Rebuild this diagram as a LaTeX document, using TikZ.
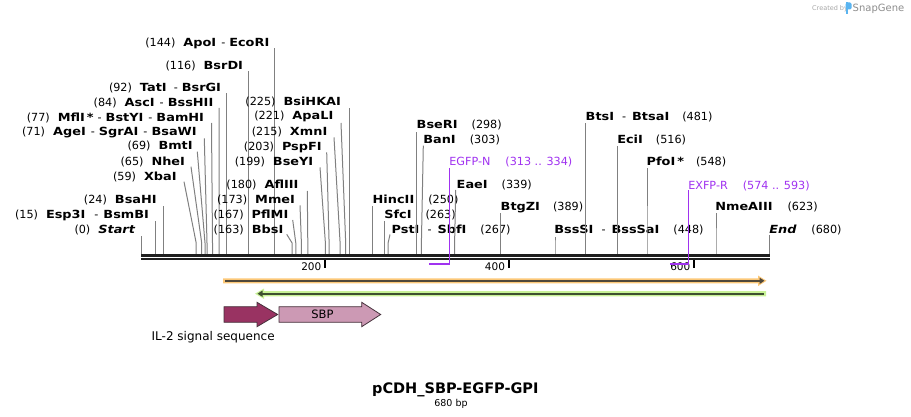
\documentclass[tikz,border=0pt]{standalone}
\usepackage{fontspec}
\setmainfont{DejaVu Sans}
\newfontfamily\bnm[FakeStretch=1.15]{DejaVu Sans}
\usetikzlibrary{arrows.meta}
\definecolor{enzc}{RGB}{128,128,128}
\definecolor{seqc}{RGB}{30,30,30}
\definecolor{prim}{RGB}{160,50,240}
\definecolor{orL}{RGB}{252,200,120}
\definecolor{orD}{RGB}{80,72,58}
\definecolor{grL}{RGB}{200,242,150}
\definecolor{grD}{RGB}{62,80,48}
\definecolor{ilc}{RGB}{153,51,98}
\definecolor{sbpc}{RGB}{204,153,180}
\definecolor{featb}{RGB}{70,50,60}
\definecolor{logoc}{RGB}{90,180,240}
\newcommand\nm[1]{{\bnm\bfseries #1}}
\newcommand\nmi[1]{{\bnm\bfseries\itshape #1}}
\newcommand\dsh{\hspace{5pt}-\hspace{4pt}}
\newcommand\dshw{\hspace{8pt}-\hspace{6pt}}
\newcommand\enzL[7]{%
  \coordinate (s#1) at (#2,254);
  \coordinate (t#1) at (#3,#4);
  \draw[enz] (s#1) -- ([yshift=11pt]s#1) -- (t#1);
  \node[lab,anchor=base east] (l#1) at (#5,#6) {#7};
}
\newcommand\enzR[7]{%
  \coordinate (s#1) at (#2,254);
  \coordinate (t#1) at (#3,#4);
  \draw[enz] (s#1) -- ([yshift=11pt]s#1) -- (t#1);
  \node[lab,anchor=base west] (l#1) at (#5,#6) {#7};
}
\begin{document}
\begin{tikzpicture}[x=1pt,y=-1pt,
  enz/.style={draw=enzc,line width=1pt},
  lab/.style={inner sep=0pt,outer sep=0pt,font=\fontsize{11.2}{13}\selectfont},
  ticklab/.style={inner sep=0pt,font=\fontsize{10.5}{12}\selectfont},
  featarrow/.style={draw=featb,line width=0.8pt}]
\useasboundingbox (0,0) rectangle (911,417);
% watermark
\node[inner sep=0pt,anchor=base west,text=black!35,font=\fontsize{6.5}{7}\selectfont] (wm1) at (812,11) {Created by};
\fill[logoc] (845.5,2.5) rectangle (848.3,14);
\fill[logoc,rounded corners=1.5pt] (845.5,2.5) rectangle (851.5,9.5);
\node[inner sep=0pt,anchor=base west,text=black!45,font=\fontsize{10}{11}\selectfont] (wm2) at (852.5,12) {SnapGene};
% left enzymes
\enzL{ApoI}{274.6}{274.6}{48}{269.3}{46.7}{(144)\hspace{8pt}\nm{ApoI}\dsh\nm{EcoRI}}
\enzL{BsrDI}{248.8}{248.8}{71}{243}{70}{(116)\hspace{8pt}\nm{BsrDI}}
\enzL{TatI}{226.6}{226.6}{93}{221}{91.7}{(92)\hspace{8pt}\nm{TatI}\hspace{7pt}-\hspace{4pt}\nm{BsrGI}}
\enzL{AscI}{219.2}{219}{108}{213.3}{106.7}{(84)\hspace{8pt}\nm{AscI}\dsh\nm{BssHII}}
\enzL{MflI}{212.5}{211.5}{123}{204}{121.7}{(77)\hspace{8pt}\nm{MflI\hspace{2pt}*}\hspace{4pt}-\hspace{4pt}\nm{BstYI}\dsh\nm{BamHI}}
\enzL{AgeI}{207}{204.3}{138.3}{196.7}{136}{(71)\hspace{8pt}\nm{AgeI}\dsh\nm{SgrAI}\dsh\nm{BsaWI}}
\enzL{BmtI}{205}{197.3}{151.7}{192.7}{150}{(69)\hspace{8pt}\nm{BmtI}}
\enzL{NheI}{201.7}{191}{166.7}{185}{166}{(65)\hspace{8pt}\nm{NheI}}
\enzL{XbaI}{196.2}{184}{181.7}{176.7}{180.7}{(59)\hspace{8pt}\nm{XbaI}}
\enzL{BsaHI}{163.9}{163.9}{206}{156.7}{203.3}{(24)\hspace{8pt}\nm{BsaHI}}
\enzL{Esp3I}{155.5}{155.5}{221}{149}{218.3}{(15)\hspace{8pt}\nm{Esp3I}\hspace{9pt}-\hspace{5pt}\nm{BsmBI}}
\enzL{Start}{141.7}{141.7}{236}{135}{233.3}{(0)\hspace{8pt}\nmi{Start}}
% middle-left enzymes
\enzL{BsiHKAI}{349.4}{349.4}{108}{341}{105.7}{(225)\hspace{8pt}\nm{BsiHKAI}}
\enzL{ApaLI}{345.7}{341}{123}{333.3}{120}{(221)\hspace{8pt}\nm{ApaLI}}
\enzL{XmnI}{340.1}{334}{137.3}{327.3}{136}{(215)\hspace{8pt}\nm{XmnI}}
\enzL{PspFI}{329.1}{326.7}{152.3}{321.7}{151}{(203)\hspace{8pt}\nm{PspFI}}
\enzL{BseYI}{325.4}{320}{167.3}{313.3}{166}{(199)\hspace{8pt}\nm{BseYI}}
\enzL{AflIII}{307.8}{307.3}{191}{298.5}{188.3}{(180)\hspace{8pt}\nm{AflIII}}
\enzL{MmeI}{301.4}{300}{205.3}{295}{203.3}{(173)\hspace{8pt}\nm{MmeI}}
\enzL{PflMI}{295.8}{292.7}{220}{288.3}{218.3}{(167)\hspace{8pt}\nm{PflMI}}
\enzL{BbsI}{292.1}{286.7}{234.3}{283.3}{233.3}{(163)\hspace{8pt}\nm{BbsI}}
% right enzymes
\enzR{HincII}{372.5}{372.5}{206}{372.7}{203.3}{\nm{HincII}\hspace{14pt}(250)}
\enzR{SfcI}{384.5}{384.5}{221}{384.3}{218.7}{\nm{SfcI}\hspace{14pt}(263)}
\enzR{PstI}{388.1}{390}{234.5}{391.7}{233.3}{\nm{PstI}\dshw\nm{SbfI}\hspace{14pt}(267)}
\enzR{BseRI}{416.8}{416.8}{131.7}{416.7}{128.3}{\nm{BseRI}\hspace{14pt}(298)}
\enzR{BanI}{421.4}{423.3}{145.7}{423.3}{143.3}{\nm{BanI}\hspace{14pt}(303)}
\enzR{EaeI}{454.6}{455.7}{190}{456.7}{188.3}{\nm{EaeI}\hspace{14pt}(339)}
\enzR{BtgZI}{500.7}{500.7}{213.3}{500.7}{210.7}{\nm{BtgZI}\hspace{13pt}(389)}
\enzR{BssSI}{555}{555}{236.7}{554.3}{233.3}{\nm{BssSI}\dshw\nm{BssSaI}\hspace{14pt}(448)}
\enzR{BtsI}{585.7}{585.7}{123.3}{585.7}{120.7}{\nm{BtsI}\dshw\nm{BtsaI}\hspace{13pt}(481)}
\enzR{EciI}{617.5}{617.5}{146}{617.3}{143.3}{\nm{EciI}\hspace{13pt}(516)}
\enzR{PfoI}{647}{647}{168.3}{646.7}{166}{\nm{PfoI\hspace{2pt}*}\hspace{12pt}(548)}
\enzR{NmeAIII}{716}{716}{212.7}{715.3}{211}{\nm{NmeAIII}\hspace{15pt}(623)}
\enzR{End}{769.3}{769.3}{235}{769.3}{233.3}{\nmi{End}\hspace{15pt}(680)}
% sequence
\coordinate (seqA) at (141,255.3);
\coordinate (seqB) at (770,255.3);
\coordinate (seqC) at (141,259);
\coordinate (seqD) at (770,259);
\draw[seqc,line width=2.6pt] (seqA) -- (seqB);
\draw[seqc,line width=2.6pt] (seqC) -- (seqD);
% ticks
\foreach \tx/\tl in {325/200,508.7/400,694/600}{
  \draw[black,line width=2pt] (\tx,260) -- (\tx,268);
  \node[ticklab,anchor=base east] at (\tx-3.5,270.5) {\tl};
}
% primers
\coordinate (pNtop) at (449.3,168);
\coordinate (pNbot) at (449.3,264);
\coordinate (pNl) at (429.3,264);
\draw[prim,line width=1.3pt] (pNtop) -- (pNbot);
\draw[prim,line width=2pt] (pNl) -- ([xshift=0.6pt]pNbot);
\node[lab,text=prim,anchor=base west] (lEGFPN) at (449.3,165.7) {EGFP-N\hspace{15pt}(313 .. 334)};
\coordinate (pRtop) at (688.5,190);
\coordinate (pRbot) at (688.5,264);
\coordinate (pRl) at (670,264);
\draw[prim,line width=1.3pt] (pRtop) -- (pRbot);
\draw[prim,line width=2pt] (pRl) -- ([xshift=0.6pt]pRbot);
\node[lab,text=prim,anchor=base west] (lEXFPR) at (688.3,189.3) {EXFP-R\hspace{15pt}(574 .. 593)};
% orange feature
\fill[orL] (223,278.3) -- (758,278.3) -- (758,275.5) -- (766.5,280.8) -- (758,286.1) -- (758,283.3) -- (223,283.3) -- cycle;
\draw[orD,line width=2pt,-{Triangle[length=5pt,width=6pt]}] (225,280.8) -- (764.5,280.8);
% green feature
\fill[grL] (766,291) -- (264,291) -- (264,288.5) -- (255,293.7) -- (264,298.9) -- (264,296.4) -- (766,296.4) -- cycle;
\draw[grD,line width=2.2pt,{Triangle[length=5pt,width=6pt]}-] (257.5,293.7) -- (764,293.7);
% IL-2 and SBP
\draw[featarrow,fill=ilc] (224,306.7) -- (257,306.7) -- (257,302.3) -- (277.7,314.5) -- (257,326.7) -- (257,322.3) -- (224,322.3) -- cycle;
\draw[featarrow,fill=sbpc] (279,306.7) -- (361.7,306.7) -- (361.7,302.3) -- (380.7,314.5) -- (361.7,326.7) -- (361.7,322.3) -- (279,322.3) -- cycle;
\node[inner sep=0pt,font=\fontsize{11.5}{13}\selectfont] (sbp) at (322.5,314) {SBP};
\node[inner sep=0pt,anchor=base west,font=\fontsize{12}{14}\selectfont] (il2) at (151.5,340) {IL-2 signal sequence};
% title
\node[inner sep=0pt,anchor=base,font=\fontsize{14.5}{16}\selectfont\bfseries] (title) at (455.3,393.3) {pCDH\_SBP-EGFP-GPI};
\node[inner sep=0pt,anchor=base,font=\fontsize{9.5}{11}\selectfont] (bp) at (451,406) {680 bp};
\end{tikzpicture}
\end{document}
